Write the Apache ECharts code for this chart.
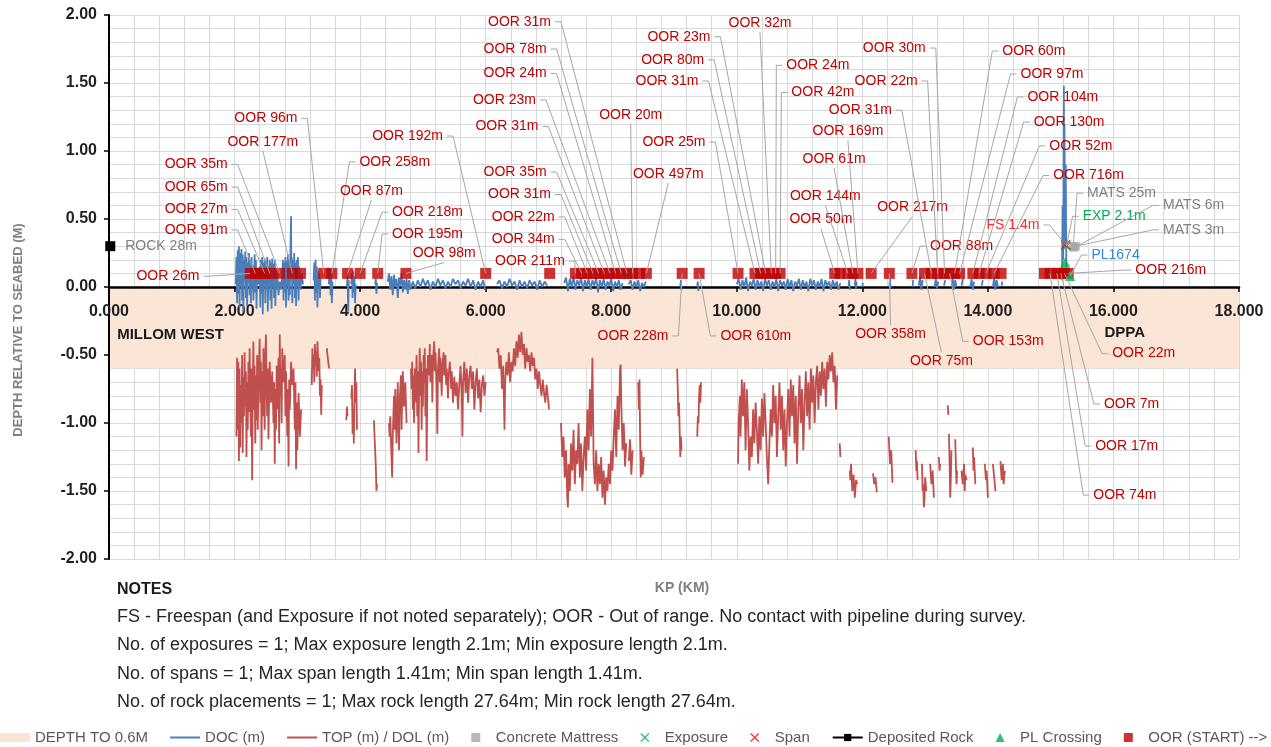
<!DOCTYPE html>
<html>
<head>
<meta charset="utf-8">
<title>Pipeline depth of cover profile</title>
<script src="https://cdn.jsdelivr.net/npm/echarts@6/dist/echarts.min.js"></script>
<style>
  html, body { margin: 0; padding: 0; background: #ffffff; }
  #chart { width: 1271px; height: 747px; }
</style>
</head>
<body>
<div id="chart"></div>
<script>
// ---- Axis settings ----
const kpRange = [0, 18];
const kpStep = 2;
const depthRange = [-2, 2];
const depthStep = 0.5;
const coverBand = [0, -0.6];          // DEPTH TO 0.6M shading

// ---- Depth of cover (DOC), [KP km, depth m]; null breaks the line ----
const docPoints = [
  [2.02,0.02],[2.03,0.22],[2.04,-0.12],[2.05,0.27],[2.06,-0.05],[2.07,0.3],[2.08,-0.15],[2.09,0.25],[2.10,0.0],[2.11,0.28],
  [2.12,-0.1],[2.13,0.24],[2.14,-0.18],[2.15,0.2],[2.16,0.05],[2.17,0.26],[2.18,-0.08],[2.19,0.22],[2.20,-0.14],[2.21,0.18],
  [2.22,0.03],[2.23,0.25],[2.24,-0.06],[2.25,0.2],[2.26,-0.12],[2.27,0.22],[2.28,0.0],[2.29,0.16],[2.30,-0.1],[2.32,0.24],
  [2.33,-0.04],[2.34,0.2],[2.35,-0.16],[2.36,0.1],[2.38,0.02],[2.40,0.15],[2.41,-0.15],[2.42,0.2],[2.43,-0.05],[2.44,0.22],
  [2.45,-0.2],[2.46,0.18],[2.47,0.02],[2.48,0.21],[2.49,-0.12],[2.50,0.19],[2.51,-0.02],[2.52,0.22],[2.53,-0.18],[2.54,0.15],
  [2.55,0.04],[2.56,0.2],[2.57,-0.1],[2.58,0.18],[2.59,-0.16],[2.60,0.21],[2.61,0.0],[2.62,0.17],[2.63,-0.08],[2.64,0.2],
  [2.65,-0.14],[2.66,0.12],[2.67,-0.02],[2.68,0.1],[2.70,-0.06],[2.72,0.04],[2.74,-0.02],[2.76,0.08],[2.77,0.2],[2.78,-0.1],
  [2.79,0.18],[2.80,-0.04],[2.81,0.22],[2.82,-0.15],[2.83,0.19],[2.84,0.0],[2.85,0.24],[2.86,-0.1],[2.87,0.2],[2.88,-0.06],
  [2.89,0.26],[2.90,0.52],[2.905,0.05],[2.91,0.22],[2.92,-0.12],[2.93,0.2],[2.94,0.02],[2.95,0.25],[2.96,-0.08],[2.97,0.18],
  [2.98,-0.14],[2.99,0.2],[3.00,0.0],[3.01,0.22],[3.02,-0.1],[3.03,0.15],[3.05,-0.02],[3.07,0.1],[3.09,0.02],[3.10,null],
  [3.26,0.05],[3.27,0.18],[3.28,-0.1],[3.29,0.2],[3.30,-0.04],[3.31,0.15],[3.32,-0.15],[3.33,0.12],[3.34,0.0],[3.35,0.1],
  [3.36,-0.08],[3.37,0.06],[3.38,null],
  [3.50,0.02],[3.52,0.14],[3.53,-0.06],[3.54,0.1],[3.55,-0.12],[3.56,0.04],[3.57,null],
  [3.79,0.0],[3.80,0.08],[3.81,-0.18],[3.82,0.05],[3.83,null],
  [3.86,0.02],[3.87,0.1],[3.88,-0.08],[3.89,0.12],[3.90,-0.04],[3.91,0.08],[3.92,-0.12],[3.93,0.02],[3.94,null],
  [4.24,0.02],[4.25,0.06],[4.26,-0.05],[4.27,0.03],[4.28,null],
  [4.44,0.04],[4.46,0.1],[4.48,-0.02],[4.50,0.08],[4.52,-0.06],[4.54,0.09],[4.56,0.0],[4.58,0.06],[4.60,-0.08],[4.62,0.07],
  [4.64,0.01],[4.66,0.1],[4.68,-0.04],[4.70,0.05],[4.72,-0.02],[4.74,0.06],[4.76,-0.05],[4.78,0.05],[4.80,-0.02],[4.84,0.04],
  [4.88,-0.01],[4.92,0.05],[4.96,0.0],[5.00,0.06],[5.04,0.01],[5.08,0.05],[5.12,-0.02],[5.16,0.04],[5.20,0.0],[5.24,0.06],
  [5.28,0.01],[5.32,0.05],[5.36,-0.01],[5.40,0.04],[5.44,0.0],[5.48,0.06],[5.52,0.02],[5.56,0.05],[5.60,-0.01],[5.64,0.04],
  [5.68,0.01],[5.72,0.06],[5.76,0.0],[5.80,0.05],[5.84,-0.02],[5.88,0.04],[5.92,0.0],[5.96,0.05],[5.99,-0.02],[6.00,null],
  [6.18,0.02],[6.22,0.05],[6.26,-0.01],[6.30,0.04],[6.34,0.0],[6.38,0.06],[6.42,0.01],[6.46,0.04],[6.50,-0.02],[6.54,0.05],
  [6.58,0.0],[6.62,0.04],[6.66,-0.01],[6.70,0.05],[6.74,0.01],[6.78,0.04],[6.82,-0.02],[6.86,0.05],[6.90,0.0],[6.94,0.04],
  [6.98,0.01],[7.00,null],
  [7.25,0.03],[7.28,0.07],[7.31,-0.03],[7.34,0.06],[7.37,0.0],[7.40,0.08],[7.43,-0.02],[7.46,0.05],[7.49,0.01],[7.52,0.07],
  [7.55,-0.03],[7.58,0.05],[7.61,0.0],[7.64,0.06],[7.67,-0.02],[7.70,0.05],[7.73,0.01],[7.76,0.07],[7.79,-0.04],[7.82,0.05],
  [7.85,0.0],[7.88,0.06],[7.91,-0.02],[7.94,0.04],[7.97,0.01],[8.00,0.06],[8.03,-0.03],[8.06,0.04],[8.09,0.0],[8.12,0.05],
  [8.15,-0.02],[8.18,0.03],[8.20,null],
  [8.28,0.02],[8.31,0.05],[8.34,-0.02],[8.37,0.04],[8.40,0.0],[8.43,0.05],[8.46,-0.03],[8.49,0.03],[8.52,0.0],[8.55,0.04],[8.57,null],
  [9.10,0.0],[9.11,0.05],[9.12,-0.02],[9.13,null],
  [9.37,0.01],[9.38,0.04],[9.39,-0.03],[9.40,null],
  [10.00,0.02],[10.03,0.06],[10.06,-0.02],[10.09,0.05],[10.12,0.0],[10.15,0.07],[10.18,-0.03],[10.21,0.04],[10.24,0.01],[10.27,0.06],
  [10.30,-0.02],[10.33,0.05],[10.36,0.0],[10.39,0.04],[10.42,-0.03],[10.45,0.06],[10.48,0.01],[10.51,0.05],[10.54,-0.02],[10.57,0.04],
  [10.60,0.0],[10.63,0.06],[10.66,-0.03],[10.69,0.05],[10.72,0.01],[10.75,0.04],[10.78,-0.02],[10.81,0.06],[10.84,0.0],[10.87,0.05],
  [10.90,-0.03],[10.93,0.04],[10.96,0.01],[10.99,0.06],[11.02,-0.02],[11.05,0.05],[11.08,0.0],[11.11,0.04],[11.14,-0.03],[11.17,0.06],
  [11.20,0.01],[11.23,0.05],[11.26,-0.02],[11.29,0.04],[11.32,0.0],[11.35,0.06],[11.38,-0.03],[11.41,0.05],[11.44,0.01],[11.47,0.04],
  [11.50,-0.02],[11.53,0.05],[11.56,0.0],[11.59,0.04],[11.62,-0.02],[11.65,0.03],[11.66,null],
  [11.78,0.0],[11.79,0.05],[11.80,-0.02],[11.81,null],
  [11.88,0.01],[11.89,0.06],[11.90,-0.01],[11.91,0.04],[11.92,null],
  [12.00,0.0],[12.01,0.03],[12.02,null],
  [12.43,0.0],[12.44,0.06],[12.45,-0.01],[12.46,null],
  [12.80,0.0],[12.81,0.05],[12.82,null],
  [12.90,0.01],[12.92,0.08],[12.94,-0.02],[12.96,0.05],[12.97,null],
  [13.15,0.0],[13.17,0.06],[13.19,-0.01],[13.21,0.04],[13.23,null],
  [13.30,0.01],[13.32,0.05],[13.33,null],
  [13.42,0.0],[13.44,0.07],[13.46,-0.02],[13.48,0.05],[13.50,0.0],[13.51,null],
  [13.58,0.01],[13.60,0.06],[13.61,null],
  [13.72,0.0],[13.74,0.06],[13.76,-0.02],[13.78,0.04],[13.79,null],
  [13.90,0.01],[13.92,0.05],[13.93,null],
  [14.08,0.0],[14.10,0.07],[14.12,-0.02],[14.14,0.05],[14.16,0.0],[14.17,null],
  [14.22,0.01],[14.23,0.04],[14.24,null],
  [15.18,0.05],[15.19,0.6],[15.20,0.2],[15.21,1.48],[15.215,0.4],[15.22,1.2],[15.23,0.3],[15.24,0.9],[15.25,0.1],[15.26,null]
];

// ---- Top of pipe / depth of lowering (TOP / DOL), [KP km, depth m] ----
const topPoints = [
  [2.03,-1.10],[2.04,-0.52],[2.05,-1.05],[2.06,-0.55],[2.07,-1.28],[2.08,-0.6],[2.09,-1.18],[2.10,-0.72],[2.11,-1.0],[2.12,-0.5],
  [2.13,-1.22],[2.14,-0.66],[2.15,-0.95],[2.16,-0.48],[2.17,-0.88],[2.18,-0.62],[2.19,-1.25],[2.20,-0.7],[2.21,-1.05],[2.22,-0.55],
  [2.23,-0.92],[2.24,-0.45],[2.25,-0.8],[2.26,-1.1],[2.27,-0.6],[2.28,-1.42],[2.29,-0.75],[2.30,-0.4],[2.31,-0.9],[2.32,-0.58],
  [2.33,-1.15],[2.34,-0.65],[2.35,-0.98],[2.36,-0.5],[2.37,-1.05],[2.38,-0.7],[2.40,-0.38],[2.41,-0.85],[2.42,-0.55],[2.43,-1.2],
  [2.44,-0.62],[2.45,-0.95],[2.46,-0.45],[2.47,-0.78],[2.48,-1.05],[2.49,-0.5],[2.50,-0.35],[2.51,-0.72],[2.52,-0.95],[2.53,-0.6],
  [2.54,-1.12],[2.55,-0.8],[2.56,-0.55],[2.58,-0.85],[2.60,-0.62],[2.62,-1.0],[2.63,-0.7],[2.64,-1.3],[2.65,-0.75],[2.66,-1.05],
  [2.67,-0.58],[2.68,-0.9],[2.70,-0.52],[2.71,-1.15],[2.72,-0.35],[2.73,-0.8],[2.74,-0.6],[2.75,-1.0],[2.76,-0.45],[2.78,-0.7],
  [2.80,-0.5],[2.81,-0.95],[2.82,-0.62],[2.84,-1.1],[2.85,-0.75],[2.86,-1.32],[2.87,-0.68],[2.88,-0.9],[2.90,-0.55],[2.92,-0.72],
  [2.94,-0.6],[2.96,-1.05],[2.97,-0.7],[2.98,-1.34],[2.99,-0.85],[3.00,-1.2],[3.02,-0.78],[3.04,-1.1],[3.06,-0.9],[3.07,null],
  [3.23,-0.72],[3.24,-0.45],[3.25,-0.6],[3.26,-0.5],[3.27,-0.7],[3.28,-0.42],[3.29,-0.58],[3.30,-0.47],[3.31,-0.66],[3.32,-0.4],
  [3.34,-0.62],[3.35,-0.52],[3.36,-0.8],[3.37,-0.68],[3.38,-0.94],[3.39,-0.72],[3.40,null],
  [3.47,-0.45],[3.48,-0.5],[3.50,-0.58],[3.51,-0.6],[3.52,null],
  [3.78,-0.98],[3.79,-0.88],[3.80,-0.95],[3.81,null],
  [3.86,-0.82],[3.87,-0.72],[3.88,-1.08],[3.89,-0.9],[3.90,-1.15],[3.91,-0.8],[3.92,-0.6],[3.93,-0.85],[3.94,-0.7],[3.95,-1.05],[3.96,null],
  [4.22,-0.98],[4.23,-1.1],[4.24,-1.2],[4.25,-1.32],[4.26,-1.5],[4.27,-1.45],[4.28,null],
  [4.46,-1.0],[4.47,-1.1],[4.48,-0.95],[4.50,-1.25],[4.51,-1.4],[4.52,-1.1],[4.54,-0.8],[4.55,-1.05],[4.56,-0.75],[4.58,-1.15],
  [4.60,-0.7],[4.62,-1.2],[4.63,-0.85],[4.65,-0.65],[4.66,-1.05],[4.68,-0.62],[4.70,-0.88],[4.72,-0.7],[4.74,-1.0],[4.75,null],
  [4.81,-0.6],[4.82,-0.75],[4.83,-0.55],[4.84,-0.9],[4.85,-0.65],[4.86,-1.0],[4.87,-0.6],[4.88,-0.85],[4.90,-0.5],[4.91,-0.95],
  [4.92,-0.62],[4.93,-1.22],[4.94,-0.7],[4.95,-0.45],[4.96,-0.8],[4.97,-0.55],[4.98,-1.05],[4.99,-0.62],[5.00,-0.88],[5.01,-0.5],
  [5.02,-0.7],[5.03,-0.45],[5.04,-0.95],[5.05,-0.6],[5.06,-1.28],[5.07,-0.75],[5.08,-0.5],[5.10,-0.65],[5.11,-0.42],[5.12,-0.7],
  [5.14,-0.5],[5.15,-0.85],[5.16,-0.55],[5.18,-0.4],[5.19,-0.62],[5.20,-0.48],[5.22,-0.75],[5.23,-1.08],[5.24,-0.6],[5.26,-0.45],
  [5.27,-0.7],[5.28,-0.52],[5.30,-0.8],[5.31,-0.58],[5.33,-0.48],[5.34,-0.65],[5.36,-0.5],[5.37,-0.72],[5.38,-0.6],[5.40,-0.82],
  [5.41,-0.65],[5.43,-0.55],[5.45,-0.75],[5.46,-0.62],[5.48,-0.85],[5.50,-0.66],[5.52,-0.8],[5.54,-0.7],[5.56,-0.9],[5.58,-0.72],
  [5.60,-0.58],[5.62,-0.8],[5.63,-1.1],[5.64,-0.7],[5.66,-0.55],[5.68,-0.78],[5.70,-0.6],[5.72,-0.85],[5.74,-0.65],[5.76,-0.58],
  [5.78,-0.75],[5.80,-0.62],[5.82,-0.9],[5.84,-0.7],[5.86,-0.6],[5.88,-0.82],[5.90,-0.68],[5.92,-0.92],[5.94,-0.72],[5.96,-0.65],
  [5.98,-0.8],[6.00,-0.7],[6.02,null],
  [6.18,-0.48],[6.20,-0.45],[6.22,-0.6],[6.24,-0.5],[6.26,-0.75],[6.28,-0.58],[6.30,-1.05],[6.31,-0.7],[6.33,-0.55],[6.35,-0.65],
  [6.37,-0.48],[6.39,-0.7],[6.41,-0.55],[6.43,-0.62],[6.45,-0.45],[6.47,-0.58],[6.49,-0.4],[6.51,-0.52],[6.53,-0.35],[6.55,-0.48],
  [6.57,-0.33],[6.59,-0.5],[6.61,-0.42],[6.63,-0.6],[6.65,-0.45],[6.67,-0.55],[6.69,-0.5],[6.71,-0.62],[6.73,-0.48],[6.75,-0.58],
  [6.77,-0.52],[6.79,-0.68],[6.81,-0.6],[6.83,-0.75],[6.85,-0.62],[6.87,-0.72],[6.89,-0.8],[6.91,-0.68],[6.93,-0.78],[6.95,-0.85],
  [6.97,-0.72],[6.99,-0.8],[7.01,-0.9],[7.02,null],
  [7.20,-1.0],[7.22,-1.25],[7.24,-1.1],[7.26,-1.4],[7.28,-1.2],[7.30,-1.55],[7.31,-1.62],[7.32,-1.3],[7.34,-1.5],[7.36,-1.15],
  [7.38,-1.35],[7.40,-1.05],[7.42,-1.45],[7.44,-1.2],[7.46,-1.3],[7.48,-1.0],[7.50,-1.4],[7.52,-1.15],[7.54,-1.5],[7.56,-1.25],
  [7.58,-1.1],[7.60,-1.35],[7.62,-0.9],[7.64,-1.2],[7.66,-0.75],[7.68,-1.1],[7.70,-0.52],[7.71,-0.9],[7.72,-1.3],[7.74,-1.45],
  [7.76,-1.2],[7.78,-1.5],[7.80,-1.3],[7.82,-1.45],[7.84,-1.25],[7.86,-1.55],[7.88,-1.35],[7.90,-1.6],[7.92,-1.4],[7.94,-1.5],
  [7.96,-1.3],[7.98,-1.45],[8.00,-1.2],[8.02,-1.35],[8.04,-1.1],[8.06,-0.9],[8.08,-1.25],[8.10,-0.8],[8.12,-1.05],[8.14,-0.6],
  [8.15,-0.57],[8.16,-0.85],[8.18,-1.2],[8.20,-1.0],[8.22,-1.32],[8.24,-1.15],[8.26,null],
  [8.28,-1.28],[8.30,-1.12],[8.32,-1.38],[8.34,-1.2],[8.36,null],
  [8.43,-0.7],[8.44,-0.9],[8.45,-0.68],[8.46,-1.1],[8.47,-1.4],[8.48,-1.2],[8.50,-1.38],[8.52,-1.25],[8.53,null],
  [9.05,-0.6],[9.06,-0.75],[9.07,-0.95],[9.08,-0.85],[9.09,-1.05],[9.10,-1.25],[9.11,-1.1],[9.12,-1.2],[9.13,null],
  [9.37,-1.1],[9.38,-0.95],[9.39,-1.0],[9.40,-0.8],[9.41,-0.72],[9.42,-0.85],[9.43,-0.7],[9.44,null],
  [10.02,-1.3],[10.03,-1.0],[10.05,-0.8],[10.06,-1.1],[10.08,-0.68],[10.10,-0.95],[10.12,-0.7],[10.14,-1.2],[10.16,-0.75],[10.18,-1.0],
  [10.20,-1.35],[10.22,-1.1],[10.24,-1.25],[10.26,-0.9],[10.28,-1.15],[10.30,-0.85],[10.32,-1.05],[10.34,-1.3],[10.36,-0.95],[10.38,-1.2],
  [10.40,-0.82],[10.42,-1.1],[10.44,-0.78],[10.46,-1.0],[10.48,-1.25],[10.50,-1.45],[10.52,-1.15],[10.54,-0.9],[10.56,-1.1],[10.58,-0.72],
  [10.60,-1.0],[10.62,-0.8],[10.64,-1.25],[10.66,-0.95],[10.68,-0.7],[10.70,-1.05],[10.72,-0.8],[10.74,-1.2],[10.76,-0.9],[10.78,-1.32],
  [10.80,-1.0],[10.82,-0.75],[10.84,-1.1],[10.86,-0.68],[10.88,-0.95],[10.90,-0.72],[10.92,-1.15],[10.94,-0.8],[10.96,-1.3],[10.98,-0.9],
  [11.00,-0.65],[11.02,-1.0],[11.04,-0.75],[11.06,-1.2],[11.08,-0.85],[11.10,-0.62],[11.12,-0.95],[11.14,-0.7],[11.16,-1.05],[11.18,-0.6],
  [11.20,-0.85],[11.22,-0.65],[11.24,-1.0],[11.26,-0.7],[11.28,-0.58],[11.30,-0.9],[11.32,-0.62],[11.34,-0.8],[11.36,-0.55],[11.38,-0.75],
  [11.40,-0.6],[11.42,-0.88],[11.44,-0.55],[11.46,-0.68],[11.48,-0.5],[11.50,-0.62],[11.52,-0.48],[11.54,-0.7],[11.56,-0.58],[11.58,-0.9],
  [11.60,-0.65],[11.61,null],
  [11.64,-1.15],[11.65,-1.25],[11.66,null],
  [11.80,-1.35],[11.81,-1.42],[11.82,-1.3],[11.84,-1.5],[11.86,-1.38],[11.88,-1.55],[11.90,-1.42],[11.92,-1.45],[11.93,null],
  [12.17,-1.37],[12.19,-1.45],[12.21,-1.4],[12.23,-1.51],[12.24,null],
  [12.42,-1.1],[12.44,-1.3],[12.46,-1.2],[12.48,-1.44],[12.49,null],
  [12.85,-1.2],[12.86,-1.35],[12.87,-1.28],[12.88,-1.42],[12.89,null],
  [12.95,-1.3],[12.96,-1.5],[12.97,-1.45],[12.98,-1.62],[12.99,-1.55],[13.00,-1.4],[13.02,-1.5],[13.03,null],
  [13.08,-1.3],[13.10,-1.45],[13.12,-1.35],[13.14,-1.55],[13.15,null],
  [13.22,-1.25],[13.23,-1.35],[13.24,-1.3],[13.25,null],
  [13.36,-0.87],[13.37,-0.94],[13.375,null],
  [13.38,-1.08],[13.39,-1.3],[13.40,-1.55],[13.41,-1.4],[13.42,-1.2],[13.43,null],
  [13.48,-1.12],[13.49,-1.3],[13.50,-1.45],[13.51,-1.35],[13.52,null],
  [13.58,-1.35],[13.60,-1.45],[13.62,-1.3],[13.63,-1.5],[13.64,-1.38],[13.66,-1.42],[13.67,null],
  [13.76,-1.18],[13.77,-1.35],[13.78,-1.25],[13.80,-1.45],[13.81,null],
  [13.95,-1.3],[13.97,-1.42],[13.98,-1.35],[14.00,-1.55],[14.01,null],
  [14.08,-1.3],[14.10,-1.4],[14.12,-1.5],[14.13,null],
  [14.20,-1.28],[14.22,-1.42],[14.24,-1.3],[14.25,-1.45],[14.27,-1.35],[14.28,null]
];

// ---- Event markers ----
const oorLevel = 0.1;                  // OOR (start) markers sit at this depth
const oorKp = [
  2.25, 2.33, 2.40, 2.48, 2.56, 2.72, 2.92, 3.05, 3.42, 3.55, 3.80, 4.00, 4.28, 4.73,
  6.00, 7.02, 7.43, 7.53, 7.62, 7.71, 7.80, 7.89, 7.98, 8.07, 8.16, 8.25, 8.34, 8.45, 8.56,
  9.13, 9.40, 10.02, 10.29, 10.38, 10.46, 10.55, 10.62, 10.69,
  11.56, 11.64, 11.77, 11.85, 11.93, 12.14, 12.43, 12.79, 12.99, 13.10, 13.20, 13.31, 13.39,
  13.47, 13.55, 13.76, 13.86, 13.97, 14.10, 14.21, 14.90, 14.99, 15.10, 15.16, 15.22, 15.28
];
const spanPoints = [[15.24, 0.31]];
const exposurePoints = [[15.25, 0.30]];
const mattressPoints = [[15.36, 0.30], [15.38, 0.29], [15.40, 0.30]];
const crossingPoints = [[15.23, 0.18], [15.31, 0.08]];
const rockPoints = [[0.02, 0.30]];

// ---- Callouts: [text, target KP, target depth, elbow KP, elbow depth, side, kind] ----
// side: 'l' text left of elbow, 'r' text right of elbow, 'a' above, 'b' below
const callouts = [
  ['OOR 26m', 2.25, 0.1, 1.60, 0.08, 'l', 'oor'],
  ['OOR 91m', 2.33, 0.1, 2.05, 0.42, 'l', 'oor'],
  ['OOR 27m', 2.48, 0.1, 2.05, 0.57, 'l', 'oor'],
  ['OOR 65m', 2.56, 0.1, 2.05, 0.735, 'l', 'oor'],
  ['OOR 35m', 2.72, 0.1, 2.05, 0.90, 'l', 'oor'],
  ['OOR 177m', 2.92, 0.1, 2.45, 1.00, 'a', 'oor'],
  ['OOR 96m', 3.42, 0.1, 3.16, 1.24, 'l', 'oor'],
  ['OOR 258m', 3.55, 0.1, 3.83, 0.92, 'r', 'oor'],
  ['OOR 87m', 3.80, 0.1, 4.18, 0.64, 'a', 'oor'],
  ['OOR 218m', 4.00, 0.1, 4.35, 0.55, 'r', 'oor'],
  ['OOR 195m', 4.28, 0.1, 4.35, 0.39, 'r', 'oor'],
  ['OOR 98m', 4.73, 0.1, 5.34, 0.18, 'a', 'oor'],
  ['OOR 192m', 6.00, 0.1, 5.48, 1.11, 'l', 'oor'],
  ['OOR 211m', 7.43, 0.1, 7.42, 0.19, 'l', 'oor'],
  ['OOR 34m', 7.53, 0.1, 7.26, 0.35, 'l', 'oor'],
  ['OOR 22m', 7.62, 0.1, 7.26, 0.515, 'l', 'oor'],
  ['OOR 31m', 7.71, 0.1, 7.20, 0.68, 'l', 'oor'],
  ['OOR 35m', 7.80, 0.1, 7.13, 0.845, 'l', 'oor'],
  ['OOR 31m', 7.89, 0.1, 7.00, 1.18, 'l', 'oor'],
  ['OOR 23m', 7.98, 0.1, 6.96, 1.375, 'l', 'oor'],
  ['OOR 24m', 8.07, 0.1, 7.13, 1.57, 'l', 'oor'],
  ['OOR 78m', 8.16, 0.1, 7.13, 1.75, 'l', 'oor'],
  ['OOR 31m', 8.25, 0.1, 7.20, 1.95, 'l', 'oor'],
  ['OOR 20m', 8.34, 0.1, 8.31, 1.20, 'a', 'oor'],
  ['OOR 497m', 8.56, 0.1, 8.91, 0.765, 'a', 'oor'],
  ['OOR 228m', 9.13, 0.1, 9.07, -0.36, 'l', 'oor'],
  ['OOR 610m', 9.40, 0.1, 9.58, -0.36, 'r', 'oor'],
  ['OOR 25m', 10.02, 0.1, 9.66, 1.066, 'l', 'oor'],
  ['OOR 31m', 10.29, 0.1, 9.55, 1.515, 'l', 'oor'],
  ['OOR 80m', 10.38, 0.1, 9.64, 1.67, 'l', 'oor'],
  ['OOR 23m', 10.46, 0.1, 9.74, 1.84, 'l', 'oor'],
  ['OOR 32m', 10.55, 0.1, 10.37, 1.875, 'a', 'oor'],
  ['OOR 24m', 10.62, 0.1, 10.63, 1.63, 'r', 'oor'],
  ['OOR 42m', 10.69, 0.1, 10.71, 1.43, 'r', 'oor'],
  ['OOR 50m', 11.56, 0.1, 11.34, 0.43, 'a', 'oor'],
  ['OOR 144m', 11.77, 0.1, 11.41, 0.60, 'a', 'oor'],
  ['OOR 61m', 11.85, 0.1, 11.55, 0.875, 'a', 'oor'],
  ['OOR 169m', 11.93, 0.1, 11.77, 1.08, 'a', 'oor'],
  ['OOR 217m', 12.14, 0.1, 12.80, 0.52, 'a', 'oor'],
  ['OOR 358m', 12.43, 0.1, 12.45, -0.28, 'b', 'oor'],
  ['OOR 88m', 12.79, 0.1, 12.92, 0.30, 'r', 'oor'],
  ['OOR 75m', 12.99, 0.1, 13.26, -0.48, 'b', 'oor'],
  ['OOR 31m', 13.10, 0.1, 12.63, 1.30, 'l', 'oor'],
  ['OOR 22m', 13.20, 0.1, 13.04, 1.515, 'l', 'oor'],
  ['OOR 30m', 13.31, 0.1, 13.17, 1.757, 'l', 'oor'],
  ['OOR 153m', 13.39, 0.1, 13.60, -0.40, 'r', 'oor'],
  ['OOR 60m', 13.47, 0.1, 14.07, 1.735, 'r', 'oor'],
  ['OOR 97m', 13.55, 0.1, 14.36, 1.566, 'r', 'oor'],
  ['OOR 104m', 13.76, 0.1, 14.47, 1.397, 'r', 'oor'],
  ['OOR 130m', 13.86, 0.1, 14.57, 1.213, 'r', 'oor'],
  ['OOR 52m', 13.97, 0.1, 14.82, 1.037, 'r', 'oor'],
  ['OOR 716m', 14.10, 0.1, 14.88, 0.82, 'r', 'oor'],
  ['OOR 216m', 15.28, 0.1, 16.19, 0.125, 'r', 'oor'],
  ['OOR 22m', 15.22, 0.1, 15.82, -0.49, 'r', 'oor'],
  ['OOR 7m', 15.16, 0.1, 15.69, -0.86, 'r', 'oor'],
  ['OOR 17m', 15.10, 0.1, 15.55, -1.17, 'r', 'oor'],
  ['OOR 74m', 14.99, 0.1, 15.52, -1.53, 'r', 'oor'],
  ['FS 1.4m', 15.24, 0.31, 14.98, 0.456, 'l', 'span'],
  ['EXP 2.1m', 15.25, 0.30, 15.35, 0.52, 'r', 'exp'],
  ['MATS 25m', 15.36, 0.30, 15.42, 0.69, 'r', 'mats'],
  ['MATS 6m', 15.38, 0.29, 16.63, 0.60, 'r', 'mats'],
  ['MATS 3m', 15.40, 0.30, 16.63, 0.42, 'r', 'mats'],
  ['PL1674', 15.31, 0.08, 15.49, 0.235, 'r', 'pl']
];

// End-of-line location names: [text, KP, depth, align]
const siteNames = [
  ['MILLOM WEST', 0.13, -0.35, 'left'],
  ['DPPA', 16.18, -0.34, 'center']
];

const noteLines = [
  'FS - Freespan (and Exposure if not noted separately); OOR - Out of range. No contact with pipeline during survey.',
  'No. of exposures = 1; Max exposure length 2.1m; Min exposure length 2.1m.',
  'No. of spans = 1; Max span length 1.41m; Min span length 1.41m.',
  'No. of rock placements = 1; Max rock length 27.64m; Min rock length 27.64m.'
];

// ---- Styling ----
const FONT = '"Liberation Sans", Arial, sans-serif';
const C = {
  band: '#fbe5d6', doc: '#4a7ebb', top: '#c0504d', oor: '#c00000',
  span: '#ff0000', exp: '#00b050', mats: '#a5a5a5', rock: '#000000',
  grid: '#d9d9d9', leader: '#a6a6a6'
};
const calloutColor = { oor: '#c00000', span: '#ff2a2a', exp: '#00b050', mats: '#7f7f7f', pl: '#2f8be0' };
const SQUARE = 'path://M0,0H10V10H0Z';
const CROSS = 'path://M1,0L5,4L9,0L10,1L6,5L10,9L9,10L5,6L1,10L0,9L4,5L0,1Z';
const TRIANGLE = 'path://M5,0L10,10H0Z';
const LINE_ICON = 'path://M0,0H30V2H0Z';

// Plot area in pixels (also used to lift the KP axis onto the zero line)
const GRID = { left: 109, right: 32, top: 15, bottom: 188 };
const chartHeight = 747;
const plotHeight = chartHeight - GRID.top - GRID.bottom;
const zeroOffset = -plotHeight * (0 - depthRange[0]) / (depthRange[1] - depthRange[0]);

const chart = echarts.init(document.getElementById('chart'), null, { renderer: 'canvas' });

function renderCallout(params, api) {
  const c = callouts[params.dataIndex];
  const target = api.coord([c[1], c[2]]);
  const elbow = api.coord([c[3], c[4]]);
  const side = c[5];
  const stub = 6, gap = 4;
  const pts = [target, elbow];
  let tx = elbow[0], ty = elbow[1], align = 'center', vAlign = 'middle';
  if (side === 'l') {
    pts.push([elbow[0] - stub, elbow[1]]);
    tx = elbow[0] - stub - gap; align = 'right';
  } else if (side === 'r') {
    pts.push([elbow[0] + stub, elbow[1]]);
    tx = elbow[0] + stub + gap; align = 'left';
  } else if (side === 'a') {
    ty = elbow[1] - 2; vAlign = 'bottom';
  } else {
    ty = elbow[1] + 2; vAlign = 'top';
  }
  return {
    type: 'group',
    children: [
      { type: 'polyline', shape: { points: pts }, style: { stroke: C.leader, lineWidth: 1, fill: null } },
      { type: 'text', x: tx, y: ty, style: { text: c[0], align: align, verticalAlign: vAlign,
        fill: calloutColor[c[6]], font: '14px ' + FONT } }
    ]
  };
}

function renderSiteName(params, api) {
  const s = siteNames[params.dataIndex];
  const p = api.coord([s[1], s[2]]);
  return { type: 'text', x: p[0], y: p[1], style: { text: s[0], align: s[3], verticalAlign: 'middle',
    fill: '#1a1a1a', font: 'bold 15px ' + FONT } };
}

const gridLine = { lineStyle: { color: C.grid, width: 1 } };

const option = {
  backgroundColor: '#ffffff',
  animation: false,
  textStyle: { fontFamily: FONT },
  grid: { left: GRID.left, right: GRID.right, top: GRID.top, bottom: GRID.bottom, containLabel: false },
  xAxis: [
    { type: 'value', min: kpRange[0], max: kpRange[1], interval: kpStep, position: 'bottom',
      axisLine: { show: false }, axisTick: { show: false }, axisLabel: { show: false },
      splitLine: { show: true, ...gridLine },
      minorTick: { show: false, splitNumber: 5 }, minorSplitLine: { show: true, ...gridLine } },
    { type: 'value', min: kpRange[0], max: kpRange[1], interval: kpStep, position: 'bottom', z: 2,
      offset: zeroOffset,
      axisLine: { show: true, onZero: false, lineStyle: { color: '#000000', width: 2.5 } },
      axisTick: { show: true, length: 5, lineStyle: { color: '#000000', width: 1.5 } },
      axisLabel: { show: true, margin: 17, fontSize: 16, fontWeight: 'bold', color: '#1f1f1f',
        formatter: v => v.toFixed(3) },
      splitLine: { show: false } }
  ],
  yAxis: [
    { type: 'value', min: depthRange[0], max: depthRange[1], interval: depthStep, position: 'left',
      axisLine: { show: false }, axisTick: { show: false }, axisLabel: { show: false },
      splitLine: { show: true, ...gridLine },
      minorTick: { show: false, splitNumber: 5 }, minorSplitLine: { show: true, ...gridLine } },
    { type: 'value', min: depthRange[0], max: depthRange[1], interval: depthStep, position: 'left', z: 2,
      axisLine: { show: true, onZero: false, lineStyle: { color: '#000000', width: 2 } },
      axisTick: { show: true, length: 5, lineStyle: { color: '#000000', width: 1.5 } },
      axisLabel: { show: true, margin: 12, fontSize: 16, fontWeight: 'bold', color: '#1f1f1f',
        formatter: v => v.toFixed(2) },
      splitLine: { show: false } }
  ],
  legend: {
    left: 0, bottom: 2, padding: 0, itemWidth: 30, itemHeight: 9, itemGap: 22, selectedMode: false,
    width: 1271,
    textStyle: { fontSize: 15, color: '#595959', fontFamily: FONT },
    data: [
      { name: 'DEPTH TO 0.6M', icon: 'rect' },
      { name: 'DOC (m)', icon: LINE_ICON },
      { name: 'TOP (m) / DOL (m)', icon: LINE_ICON },
      { name: 'Concrete Mattress' },
      { name: 'Exposure' },
      { name: 'Span' },
      { name: 'Deposited Rock' },
      { name: 'PL Crossing' },
      { name: 'OOR (START) -->' }
    ]
  },
  graphic: [
    { type: 'text', x: 18, y: 330, rotation: Math.PI / 2,
      style: { text: 'DEPTH RELATIVE TO SEABED (M)', align: 'center', verticalAlign: 'middle',
        fill: '#7f7f7f', font: 'bold 13px ' + FONT } },
    { type: 'text', x: 682, y: 588,
      style: { text: 'KP (KM)', align: 'center', verticalAlign: 'middle', fill: '#7f7f7f', font: 'bold 14px ' + FONT } },
    { type: 'text', x: 117, y: 590,
      style: { text: 'NOTES', align: 'left', verticalAlign: 'middle', fill: '#1a1a1a', font: 'bold 16px ' + FONT } }
  ].concat(noteLines.map((t, i) => ({
    type: 'text', x: 117, y: 617 + i * 28.3,
    style: { text: t, align: 'left', verticalAlign: 'middle', fill: '#262626', font: '18px ' + FONT }
  }))),
  series: [
    { name: 'DEPTH TO 0.6M', type: 'line', data: [], z: 1, color: C.band,
      itemStyle: { color: C.band }, lineStyle: { color: C.band },
      markArea: { silent: true, itemStyle: { color: C.band },
        data: [[{ xAxis: kpRange[0], yAxis: coverBand[0] - 0.012 }, { xAxis: kpRange[1], yAxis: coverBand[1] }]] } },
    { name: 'DOC (m)', type: 'line', data: docPoints, z: 3, symbol: 'none', connectNulls: false,
      color: C.doc, lineStyle: { color: C.doc, width: 1.8 } },
    { name: 'TOP (m) / DOL (m)', type: 'line', data: topPoints, z: 3, symbol: 'none', connectNulls: false,
      color: C.top, lineStyle: { color: C.top, width: 1.8 } },
    { name: 'Concrete Mattress', type: 'scatter', data: mattressPoints, z: 4, symbol: SQUARE, symbolSize: 8,
      color: C.mats, itemStyle: { color: C.mats } },
    { name: 'Exposure', type: 'scatter', data: exposurePoints, z: 4, symbol: CROSS, symbolSize: 10,
      color: C.exp, itemStyle: { color: C.exp } },
    { name: 'Span', type: 'scatter', data: spanPoints, z: 5, symbol: CROSS, symbolSize: 10,
      color: C.span, itemStyle: { color: C.span } },
    { name: 'Deposited Rock', type: 'line', data: rockPoints, z: 4, symbol: 'rect', symbolSize: 10,
      showSymbol: true, color: C.rock, itemStyle: { color: C.rock }, lineStyle: { color: C.rock, width: 2 },
      label: { show: true, position: 'right', distance: 10, formatter: 'ROCK 28m', color: '#7f7f7f',
        fontSize: 14, fontFamily: FONT } },
    { name: 'PL Crossing', type: 'scatter', data: crossingPoints, z: 5, symbol: TRIANGLE, symbolSize: 10,
      color: C.exp, itemStyle: { color: C.exp } },
    { name: 'OOR (START) -->', type: 'scatter', data: oorKp.map(k => [k, oorLevel]), z: 4,
      symbol: SQUARE, symbolSize: 11, color: C.oor, itemStyle: { color: C.oor } },
    { name: 'callouts', type: 'custom', z: 6, silent: true, clip: false,
      data: callouts.map(c => [c[3], c[4]]), encode: { x: 0, y: 1 }, renderItem: renderCallout },
    { name: 'sites', type: 'custom', z: 6, silent: true, clip: false,
      data: siteNames.map(s => [s[1], s[2]]), encode: { x: 0, y: 1 }, renderItem: renderSiteName }
  ]
};

chart.setOption(option);
</script>
</body>
</html>
